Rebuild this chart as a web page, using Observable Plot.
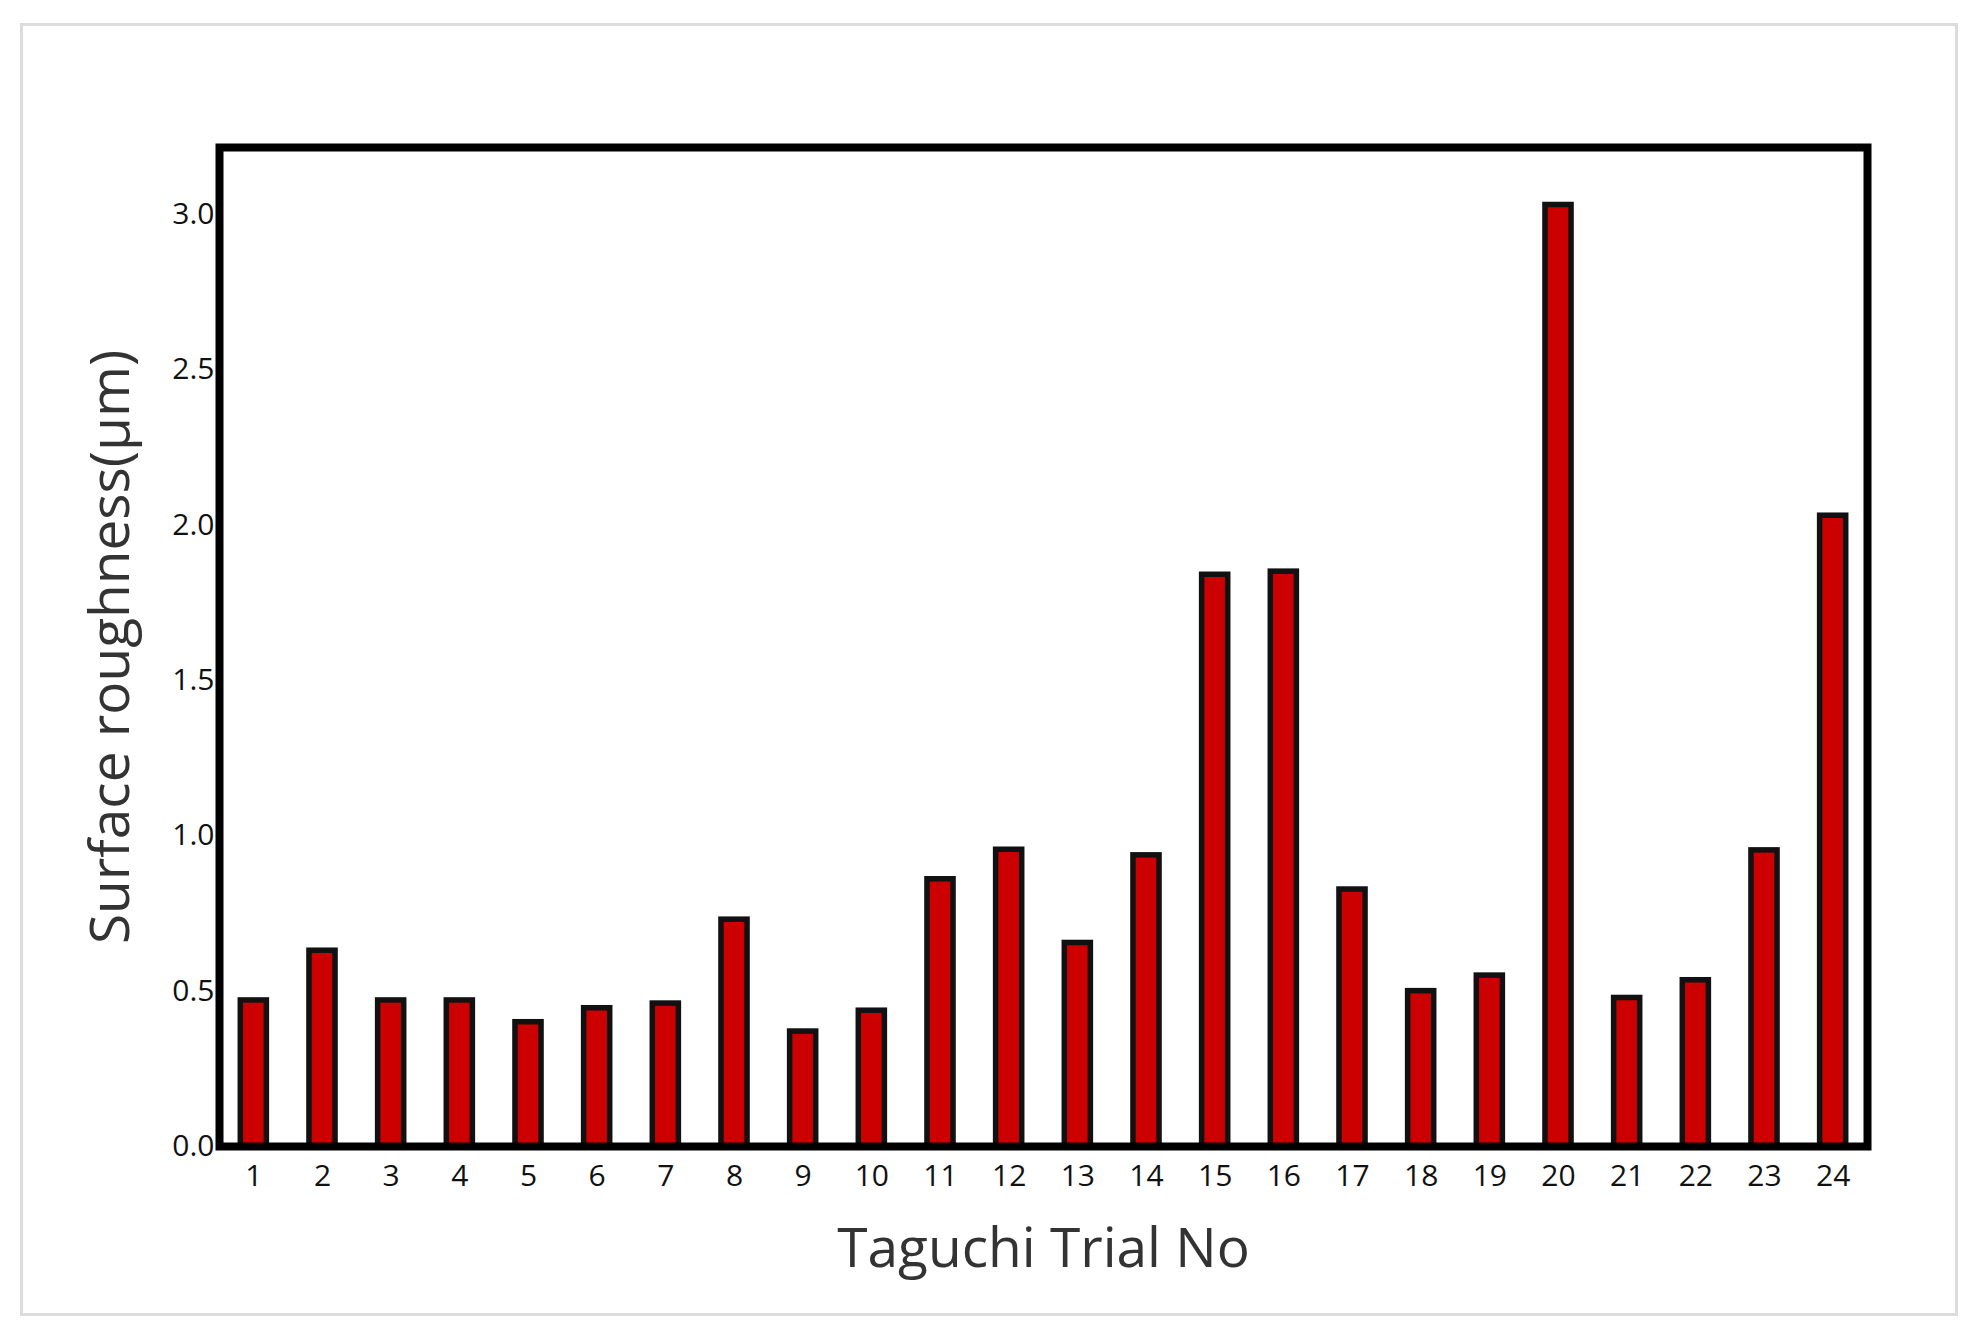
<!DOCTYPE html>
<html>
<head>
<meta charset="utf-8">
<script src="https://cdn.jsdelivr.net/npm/d3@7"></script>
<script src="https://cdn.jsdelivr.net/npm/@observablehq/plot@0.6"></script>
<style>
  html, body { margin: 0; padding: 0; background: #fff; }
  #wrap { position: relative; width: 1978px; height: 1337px; overflow: hidden; }
  #border { position: absolute; left: 20px; top: 23px; width: 1938px; height: 1293px;
            box-sizing: border-box; border: 3px solid #dcdcdc; pointer-events: none; }
</style>
</head>
<body>
<div id="wrap"><div id="border"></div></div>
<script>
const trials = ["1","2","3","4","5","6","7","8","9","10","11","12","13","14","15","16","17","18","19","20","21","22","23","24"];
const roughness = [0.47,0.63,0.47,0.47,0.40,0.445,0.46,0.73,0.37,0.437,0.86,0.955,0.655,0.937,1.84,1.85,0.827,0.50,0.55,3.03,0.478,0.535,0.953,2.03];
const yTicks = [0, 0.5, 1.0, 1.5, 2.0, 2.5, 3.0];
const xTitle = "Taguchi Trial No";
const yTitle = "Surface roughness(μm)";

const data = trials.map((t, i) => ({trial: t, value: roughness[i]}));

const chart = Plot.plot({
  width: 1978,
  height: 1337,
  marginLeft: 219,
  marginRight: 111,
  marginTop: 147,
  marginBottom: 191,
  style: {fontFamily: "'Open Sans', sans-serif", background: "transparent", color: "#111"},
  x: {domain: trials, paddingInner: 0.62, paddingOuter: 0.31, round: false, label: null},
  y: {domain: [0, 3.215], label: null},
  marks: [
    Plot.barY(data, {x: "trial", y: "value", fill: "#cc0000", stroke: "#111", strokeWidth: 5.5}),
    Plot.frame({stroke: "#000", strokeWidth: 8}),
    Plot.axisY({ticks: yTicks, tickFormat: d => d.toFixed(1), tickSize: 0, tickPadding: 5, fontSize: 30, label: null, fill: "#111"}),
    Plot.axisX({tickSize: 0, tickPadding: 18, fontSize: 30, label: null, fill: "#111"}),
    Plot.text([xTitle], {frameAnchor: "bottom", dy: 103, lineAnchor: "middle", textAnchor: "middle", fontSize: 55, fill: "#333", text: d => d}),
    Plot.text([yTitle], {frameAnchor: "left", dx: -108, rotate: -90, lineAnchor: "middle", textAnchor: "middle", fontSize: 55, fill: "#333", text: d => d})
  ]
});
document.getElementById("wrap").appendChild(chart);
chart.style.position = "absolute";
chart.style.left = "0";
chart.style.top = "0";
</script>
</body>
</html>
